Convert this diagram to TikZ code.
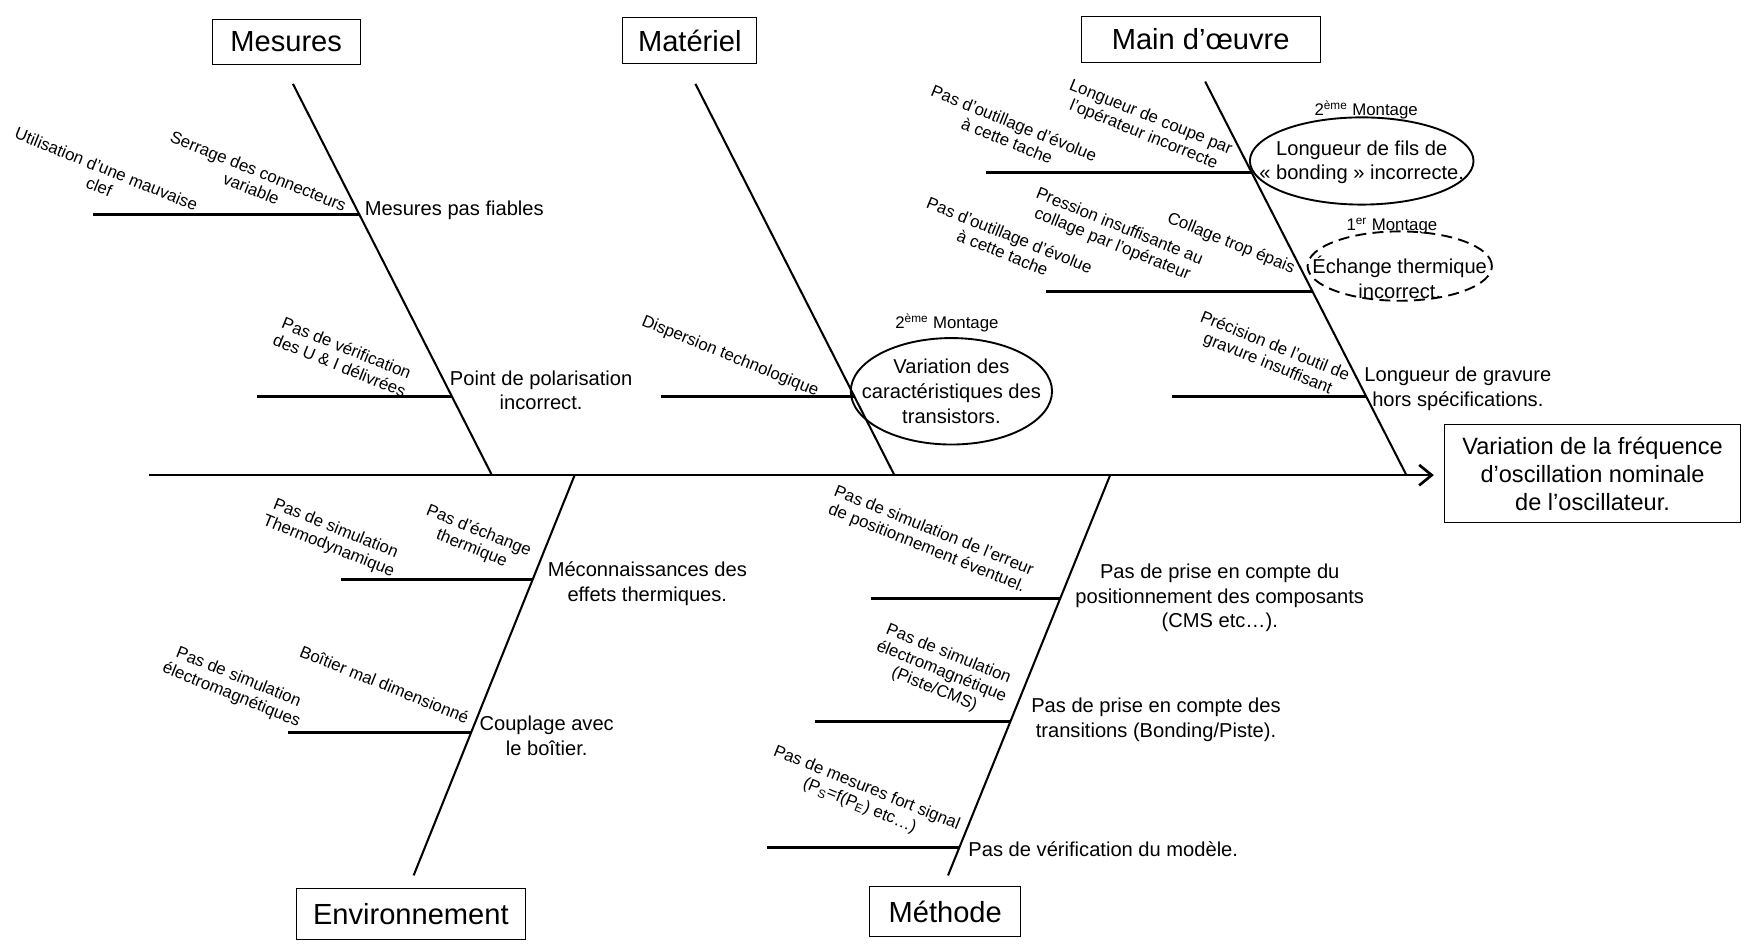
\documentclass[tikz,border=0pt]{standalone}
\usepackage{fontspec}
\setmainfont{Liberation Sans}
\usetikzlibrary{shapes.geometric, arrows.meta, positioning, calc}

\tikzset{
    catbox/.style={draw, line width=0.6pt, font=\fontsize{18.5}{22}\selectfont, minimum height=1.025cm, inner sep=2pt},
    effectbox/.style={draw, line width=0.6pt, align=center, font=\fontsize{15}{17.8}\selectfont, minimum width=6.625cm, minimum height=2.175cm},
    cause/.style={align=center, font=\fontsize{12.8}{15.6}\selectfont, inner sep=0pt},
    twiglbl/.style={align=center, font=\fontsize{10.7}{12}\selectfont, rotate=-22, inner sep=0pt},
    montage/.style={font=\fontsize{10.7}{12}\selectfont, inner sep=0pt},
    bone/.style={line width=1.3pt},
    twig/.style={line width=1.8pt},
    spine/.style={line width=1.7pt, -{Straight Barb[length=8pt, width=13pt]}, shorten >=0.225cm},
    bubble/.style={line width=1.2pt},
    dashbubble/.style={bubble, dash pattern=on 7pt off 4pt}
}

\begin{document}
\begin{tikzpicture}[x=0.025cm, y=-0.025cm]
    \useasboundingbox (0,0) rectangle (1568,845);

    % Effect and spine
    \node[effectbox] (effect) at (1424.5,423.5) {Variation de la fréquence\\d’oscillation nominale\\de l’oscillateur.};
    \coordinate (tail) at (133,425);
    \draw[spine] (tail) -- (tail -| effect.west);

    % Mesures
    \node[catbox, minimum width=3.3cm] (mesures) at (256,37.5) {Mesures};
    \coordinate (mes-top) at (262,75);
    \coordinate (mes-foot) at (440,425);
    \draw[bone] (mes-top) -- (mes-foot);
    \coordinate (mes-j1) at (321.5,192);
    \coordinate (mes-e1) at (83,192);
    \draw[twig] (mes-e1) -- (mes-j1);
    \node[cause, anchor=west] (fiables) at (326,188) {Mesures pas fiables};
    \node[twiglbl] (clef) at (92,159) {Utilisation d’une mauvaise\\clef};
    \node[twiglbl] (serrage) at (228,161) {Serrage des connecteurs\\variable};
    \coordinate (mes-j2) at (404.4,355);
    \coordinate (mes-e2) at (230,355);
    \draw[twig] (mes-e2) -- (mes-j2);
    \node[cause] (polar) at (484,349) {Point de polarisation\\incorrect.};
    \node[twiglbl] (verif) at (307,319) {Pas de vérification\\des U \& I délivrées};

    % Materiel
    \node[catbox, minimum width=3cm] (materiel) at (617,36.5) {Matériel};
    \coordinate (mat-top) at (622,75);
    \coordinate (mat-foot) at (800,425);
    \draw[bone] (mat-top) -- (mat-foot);
    \coordinate (mat-j1) at (764.4,355);
    \coordinate (mat-e1) at (591,355);
    \draw[twig] (mat-e1) -- (mat-j1);
    \node[cause] (transis) at (851,350) {Variation des\\caractéristiques des\\transistors.};
    \draw[bubble] (transis.center) ellipse [x radius=2.25cm, y radius=1.19cm];
    \node[montage] (mont-a) at (847,289) {2\textsuperscript{ème} Montage};
    \node[twiglbl] (dispersion) at (653,319) {Dispersion technologique};

    % Main d'oeuvre
    \node[catbox, minimum width=5.35cm] (oeuvre) at (1074,35) {Main d’œuvre};
    \coordinate (mo-top) at (1078,73);
    \coordinate (mo-foot) at (1258,425);
    \draw[bone] (mo-top) -- (mo-foot);
    \coordinate (mo-j1) at (1119.4,154);
    \coordinate (mo-e1) at (882,154);
    \draw[twig] (mo-e1) -- (mo-j1);
    \node[cause] (bonding) at (1218,145) {Longueur de fils de\\« bonding » incorrecte.};
    \draw[bubble] (bonding.center) ++(0,-1) ellipse [x radius=2.5cm, y radius=0.975cm];
    \node[montage] (mont-b) at (1222,98) {2\textsuperscript{ème} Montage};
    \node[twiglbl] (outil-a) at (904,118) {Pas d’outillage d’évolue\\à cette tache};
    \node[twiglbl] (coupe) at (1026,113) {Longueur de coupe par\\l’opérateur incorrecte};
    \coordinate (mo-j2) at (1174.1,261);
    \coordinate (mo-e2) at (936,261);
    \draw[twig] (mo-e2) -- (mo-j2);
    \node[cause] (echange) at (1252,248) {Échange thermique\\incorrect.};
    \draw[dashbubble] (echange.center) ++(0,-10) ellipse [x radius=2.06cm, y radius=0.775cm];
    \node[montage] (mont-c) at (1245,202) {1\textsuperscript{er} Montage};
    \node[twiglbl] (outil-b) at (900,218) {Pas d’outillage d’évolue\\à cette tache};
    \node[twiglbl] (pression) at (998,211) {Pression insuffisante au\\collage par l’opérateur};
    \node[twiglbl] (epais) at (1101,218) {Collage trop épais};
    \coordinate (mo-j3) at (1222.2,355);
    \coordinate (mo-e3) at (1048,355);
    \draw[twig] (mo-e3) -- (mo-j3);
    \node[cause] (gravure) at (1304,348) {Longueur de gravure\\hors spécifications.};
    \node[twiglbl] (precision) at (1137,318) {Précision de l’outil de\\gravure insuffisant};

    % Environnement
    \node[catbox, minimum width=5.125cm, minimum height=1.125cm] (environ) at (367.5,817.5) {Environnement};
    \coordinate (env-top) at (514,425);
    \coordinate (env-foot) at (370,783);
    \draw[bone] (env-top) -- (env-foot);
    \coordinate (env-j1) at (476.6,518);
    \coordinate (env-e1) at (305,518);
    \draw[twig] (env-e1) -- (env-j1);
    \node[cause] (meconn) at (579,522) {Méconnaissances des\\effets thermiques.};
    \node[twiglbl] (thermo) at (425,483) {Pas d’échange\\thermique};
    \node[twiglbl] (simu-a) at (297,481) {Pas de simulation\\Thermodynamique};
    \coordinate (env-j2) at (421.5,655);
    \coordinate (env-e2) at (258,655);
    \draw[twig] (env-e2) -- (env-j2);
    \node[cause] (couplage) at (489,658) {Couplage avec\\le boîtier.};
    \node[twiglbl] (boitier) at (344,612) {Boîtier mal dimensionné};
    \node[twiglbl] (simu-b) at (210,614) {Pas de simulation\\électromagnétiques};

    % Methode
    \node[catbox, minimum width=3.375cm, minimum height=1.125cm] (methode) at (845.5,815.5) {Méthode};
    \coordinate (met-top) at (993,425);
    \coordinate (met-foot) at (848,783);
    \draw[bone] (met-top) -- (met-foot);
    \coordinate (met-j1) at (948.4,535);
    \coordinate (met-e1) at (779,535);
    \draw[twig] (met-e1) -- (met-j1);
    \node[cause] (posit) at (1091,535) {Pas de prise en compte du\\positionnement des composants\\(CMS etc…).};
    \node[twiglbl] (erreur) at (832,483) {Pas de simulation de l’erreur\\de positionnement éventuel.};
    \coordinate (met-j2) at (903.9,645);
    \coordinate (met-e2) at (729,645);
    \draw[twig] (met-e2) -- (met-j2);
    \node[cause] (transit) at (1034,644) {Pas de prise en compte des\\transitions (Bonding/Piste).};
    \node[twiglbl] (simu-c) at (842,601) {Pas de simulation\\électromagnétique\\(Piste/CMS)};
    \coordinate (met-j3) at (858.1,758);
    \coordinate (met-e3) at (686,758);
    \draw[twig] (met-e3) -- (met-j3);
    \node[cause, anchor=west] (modele) at (866,760) {Pas de vérification du modèle.};
    \node[twiglbl] (fort) at (772,713) {Pas de mesures fort signal\\(P\textsubscript{S}=f(P\textsubscript{E}) etc…)};
\end{tikzpicture}
\end{document}
